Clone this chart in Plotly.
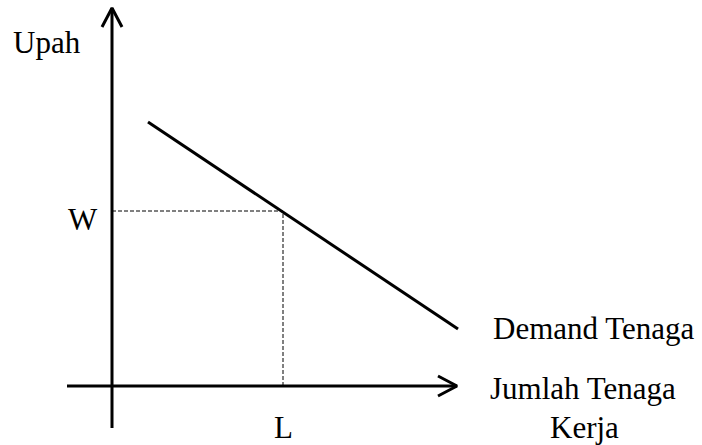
import plotly.graph_objects as go

# Quantities in chart units (origin at the axes' intersection)
demand_x = [36, 346]
demand_y = [264, 57]
wage_W = 175
labor_L = 171
x_axis_span = [-45, 345]
y_axis_span = [-42, 378]
labels = {"y": "Upah", "w": "W", "l": "L", "demand": "Demand Tenaga",
          "x1": "Jumlah Tenaga", "x2": "Kerja"}

FONT = dict(family="Liberation Serif, Times New Roman, serif", size=31, color="black")
fig = go.Figure()

# Axes
fig.add_trace(go.Scatter(x=[x_axis_span[0], x_axis_span[1]], y=[0, 0], mode="lines",
                         line=dict(color="black", width=3), hoverinfo="skip"))
fig.add_trace(go.Scatter(x=[0, 0], y=[y_axis_span[0], y_axis_span[1]], mode="lines",
                         line=dict(color="black", width=3), hoverinfo="skip"))
# Open arrowheads
ah_back, ah_half = 19, 10
tx = x_axis_span[1]
fig.add_trace(go.Scatter(x=[tx - ah_back, tx, tx - ah_back], y=[ah_half, 0, -ah_half], mode="lines",
                         line=dict(color="black", width=3), hoverinfo="skip"))
ty = y_axis_span[1]
fig.add_trace(go.Scatter(x=[-ah_half, 0, ah_half], y=[ty - ah_back, ty, ty - ah_back], mode="lines",
                         line=dict(color="black", width=3), hoverinfo="skip"))

# Demand curve
fig.add_trace(go.Scatter(x=demand_x, y=demand_y, mode="lines",
                         line=dict(color="black", width=3), hoverinfo="skip"))
# Dashed guides
fig.add_trace(go.Scatter(x=[0, labor_L, labor_L], y=[wage_W, wage_W, 0], mode="lines",
                         line=dict(color="black", width=1, dash="4px,2px"), hoverinfo="skip"))

ann = [
    (labels["y"], -65, 344),
    (labels["w"], -29, 167),
    (labels["l"], labor_L, -41),
    (labels["demand"], 481, 58),
    (labels["x1"], 471, -2),
    (labels["x2"], 472, -41),
]
for t, x, y in ann:
    fig.add_annotation(x=x, y=y, xref="x", yref="y", text=t, showarrow=False,
                       font=FONT, xanchor="center", yanchor="middle")

fig.update_layout(
    width=702, height=445, margin=dict(l=0, r=0, t=0, b=0),
    paper_bgcolor="white", plot_bgcolor="white", showlegend=False,
    xaxis=dict(range=[-112, 590], visible=False, fixedrange=True),
    yaxis=dict(range=[-59, 386], visible=False, fixedrange=True),
)
fig.write_html("out.html", config={"staticPlot": True},
               post_script="document.body.style.margin='0';document.body.style.overflow='hidden';")
